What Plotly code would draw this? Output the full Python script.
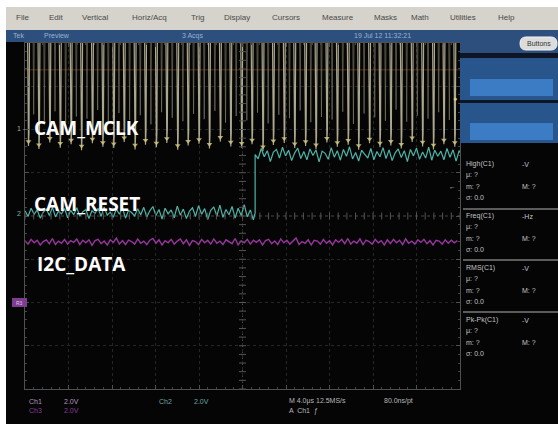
import numpy as np
import plotly.graph_objects as go

W, H = 558, 424
L, R, T, B = 25, 460, 43, 389  # graticule area in pixels


def px(x):
    return (x - L) / (R - L)


def py(y):
    return (B - y) / (B - T)


# ---------------- data (time in divisions 0..10, amplitude in divisions 0..8) ----------------
MCLK_DIP_T = [0.08, 0.32, 0.57, 0.81, 1.06, 1.30, 1.55, 1.79, 2.04, 2.28, 2.53, 2.77, 3.02, 3.26,
              3.51, 3.75, 4.00, 4.24, 4.49, 4.73, 4.98, 5.22, 5.47, 5.71, 5.96, 6.20, 6.45, 6.69,
              6.94, 7.18, 7.43, 7.67, 7.92, 8.16, 8.41, 8.65, 8.90, 9.14, 9.39, 9.63, 9.88]
MCLK_DIP_LOW = [5.62, 5.55, 5.70, 5.58, 5.66, 5.52, 5.68, 5.60, 5.57, 5.71,
                5.54, 5.65, 5.59, 5.69, 5.53, 5.63, 5.67, 5.56, 5.72, 5.61,
                5.58, 5.66, 5.50, 5.64, 5.69, 5.57, 5.62, 5.55, 5.70, 5.60,
                5.65, 5.53, 5.68, 5.59, 5.63, 5.56, 5.71, 5.61, 5.54, 5.66, 5.60]
MCLK_MID_LOW = [6.35, 6.20, 6.42, 6.15, 6.30, 6.25, 6.45, 6.18, 6.38, 6.22,
                6.33, 6.12, 6.40, 6.27, 6.19, 6.36, 6.24, 6.43, 6.16, 6.31,
                6.21, 6.39, 6.14, 6.34, 6.26, 6.44, 6.17, 6.29, 6.23, 6.41,
                6.13, 6.37, 6.28, 6.20, 6.46, 6.18, 6.32, 6.25, 6.40, 6.22]
MCLK_OFFSCREEN = 9.0

SAMPLE_STEP = 0.07
RESET_EDGE_T = 5.29
RESET_LOW = 4.07
RESET_HIGH = 5.42
RESET_LOW_NOISE = [0.05, -0.08, 0.11, -0.03, 0.07, -0.12, 0.02, 0.09, -0.06, 0.13, -0.09, 0.04, -0.02, 0.10, -0.11, 0.06, -0.04, 0.12, -0.07, 0.03,
                   0.08, -0.13, 0.05, -0.01, 0.11, -0.08, 0.14, -0.05, 0.02, -0.10, 0.09, -0.03, 0.12, -0.12, 0.06, 0.01, -0.07, 0.10, -0.04, 0.13,
                   -0.09, 0.05, 0.15, -0.06, 0.08, -0.14, 0.11, -0.02, 0.07, -0.11, 0.16, -0.05, 0.09, -0.13, 0.04, 0.12, -0.08, 0.17, -0.03, 0.10,
                   -0.15, 0.06, 0.14, -0.07, 0.18, -0.10, 0.08, -0.04, 0.15, -0.12, 0.11, -0.06, 0.19, -0.09, 0.07, -0.16]
RESET_HIGH_NOISE = [-0.10, 0.14, -0.05, 0.09, -0.16, 0.06, 0.12, -0.08, 0.17, -0.03, 0.10, -0.14, 0.04, 0.15, -0.09, 0.07, -0.12, 0.13, -0.02, 0.11,
                    -0.17, 0.08, 0.03, -0.11, 0.16, -0.06, 0.09, -0.13, 0.12, -0.04, 0.18, -0.10, 0.05, -0.15, 0.10, 0.02, -0.08, 0.14, -0.12, 0.07,
                    -0.05, 0.16, -0.09, 0.11, -0.14, 0.04, 0.13, -0.07, 0.09, -0.16, 0.12, -0.03, 0.15, -0.11, 0.06, -0.08, 0.17, -0.13, 0.10, -0.04,
                    0.08, -0.12, 0.14, -0.06, 0.11, -0.15, 0.09, -0.02]
I2C_LEVEL = 3.40
I2C_NOISE = [0.03, -0.05, 0.06, -0.02, 0.04, -0.07, 0.01, 0.05, -0.04, 0.08, -0.06, 0.02, -0.03, 0.06, -0.05, 0.03, -0.01, 0.07, -0.06, 0.04,
             -0.02, 0.05, -0.08, 0.03, 0.06, -0.04, 0.02, -0.07, 0.05, -0.01, 0.09, -0.05, 0.03, -0.06, 0.04, 0.01, -0.05, 0.07, -0.03, 0.02,
             -0.06, 0.04, 0.08, -0.03, 0.05, -0.07, 0.03, -0.02, 0.06, -0.05, 0.02, 0.07, -0.04, 0.05, -0.08, 0.03, 0.01, -0.06, 0.06, -0.02,
             0.04, -0.05, 0.07, -0.03, 0.02, -0.06, 0.05, 0.01, -0.04, 0.08, -0.07, 0.03, -0.02, 0.06, -0.05, 0.04, -0.01, 0.05, -0.07, 0.03,
             0.06, -0.04, 0.02, -0.06, 0.07, -0.02, 0.04, -0.05, 0.03, 0.09, -0.06, 0.01, -0.03, 0.05, -0.07, 0.04, 0.02, -0.05, 0.06, -0.03,
             0.03, -0.07, 0.05, -0.01, 0.06, -0.04, 0.08, -0.05, 0.02, -0.03, 0.07, -0.06, 0.04, 0.01, -0.05, 0.06, -0.02, 0.03, -0.07, 0.05,
             -0.04, 0.06, -0.02, 0.04, -0.06, 0.07, -0.03, 0.02, -0.05, 0.05, -0.01, 0.06, -0.04, 0.03, -0.07, 0.04, 0.02, -0.05, 0.05, -0.03,
             0.04, -0.02, 0.03]
TRIG_LEVEL = 7.38

SIGNAL_LABELS = ["CAM_MCLK", "CAM_RESET", "I2C_DATA"]
MENU_ITEMS = ["File", "Edit", "Vertical", "Horiz/Acq", "Trig", "Display", "Cursors",
              "Measure", "Masks", "Math", "Utilities", "Help"]
MEAS_NAMES = ["High(C1)", "Freq(C1)", "RMS(C1)", "Pk-Pk(C1)"]
MEAS_UNITS = ["-V", "-Hz", "-V", "-V"]

# ---------------- traces ----------------
clk_x, clk_y = [], []
for t, lo in zip(MCLK_DIP_T, MCLK_DIP_LOW):
    clk_x += [t - 0.028, t - 0.008, t, t + 0.012, t + 0.028]
    clk_y += [MCLK_OFFSCREEN, lo + 0.2, lo, lo + 0.3, MCLK_OFFSCREEN]
mid_x, mid_y = [], []
for i, lo in enumerate(MCLK_MID_LOW):
    tm = (MCLK_DIP_T[i] + MCLK_DIP_T[i + 1]) / 2
    mid_x += [tm - 0.02, tm, tm + 0.02, None]
    mid_y += [MCLK_OFFSCREEN, lo, MCLK_OFFSCREEN, None]

t_low = [i * SAMPLE_STEP for i in range(len(RESET_LOW_NOISE))]
t_high = [RESET_EDGE_T + (i + 1) * SAMPLE_STEP for i in range(len(RESET_HIGH_NOISE))]
rst_x = t_low + [RESET_EDGE_T, RESET_EDGE_T] + t_high
rst_y = ([RESET_LOW + n for n in RESET_LOW_NOISE] + [RESET_LOW, RESET_HIGH]
         + [RESET_HIGH + n for n in RESET_HIGH_NOISE])
i2c_x = [i * SAMPLE_STEP for i in range(len(I2C_NOISE))]
i2c_y = [I2C_LEVEL + n for n in I2C_NOISE]

fig = go.Figure()
fig.add_trace(go.Scatter(x=[0, 10], y=[TRIG_LEVEL, TRIG_LEVEL], mode="lines",
                         line=dict(color="#5a2a1c", width=1), hoverinfo="skip"))
fig.add_trace(go.Scatter(x=mid_x, y=mid_y, mode="lines",
                         line=dict(color="rgba(150,148,120,0.5)", width=1), hoverinfo="skip"))
fig.add_trace(go.Scatter(x=clk_x, y=clk_y, mode="lines",
                         line=dict(color="rgba(190,186,156,0.9)", width=1.2), hoverinfo="skip"))
fig.add_trace(go.Scatter(x=MCLK_DIP_T, y=[v + 0.1 for v in MCLK_DIP_LOW], mode="markers",
                         marker=dict(symbol="triangle-down", size=5, color="#cfc47c", opacity=0.85),
                         hoverinfo="skip"))
fig.add_trace(go.Scatter(x=rst_x, y=rst_y, mode="lines",
                         line=dict(color="#4db4a8", width=1.2), hoverinfo="skip"))
fig.add_trace(go.Scatter(x=i2c_x, y=i2c_y, mode="lines",
                         line=dict(color="#9a35a0", width=1.4), hoverinfo="skip"))

# graticule centre-line minor ticks
fig.add_trace(go.Scatter(x=np.arange(0, 10.01, 0.2), y=[4] * 51, mode="markers",
                         marker=dict(symbol="line-ns", size=5, line=dict(color="#555555", width=1)),
                         hoverinfo="skip"))
fig.add_trace(go.Scatter(x=[5] * 41, y=np.arange(0, 8.01, 0.2), mode="markers",
                         marker=dict(symbol="line-ew", size=5, line=dict(color="#555555", width=1)),
                         hoverinfo="skip"))

shapes = []


def rect(x0, y0, x1, y1, color, layer="above"):
    shapes.append(dict(type="rect", xref="paper", yref="paper", x0=px(x0), x1=px(x1),
                       y0=py(y1), y1=py(y0), fillcolor=color, line=dict(width=0), layer=layer))


def hline(x0, x1, y, color, width=1, dash="solid"):
    shapes.append(dict(type="line", xref="paper", yref="paper", x0=px(x0), x1=px(x1),
                       y0=py(y), y1=py(y), line=dict(color=color, width=width, dash=dash)))


# screen background / chrome
rect(6, 42, 558, 424, "#050505", layer="below")
rect(6, 7, 558, 30, "#d5d3cb")
rect(6, 30, 558, 42, "#2c4f7e")
rect(460, 42, 558, 53, "#2c4f7e")
rect(460, 53, 558, 58, "#0e1626")
rect(460, 58, 558, 100, "#28558c")
rect(470, 79, 553, 96, "#3b7cc4")
rect(460, 100, 558, 103, "#0e1626")
rect(460, 103, 558, 143, "#28558c")
rect(470, 123, 553, 140, "#3b7cc4")
# Buttons pill
x0, x1, y0, y1 = px(520), px(557), py(37), py(50)
rx = 6 / (R - L)
shapes.append(dict(type="path", xref="paper", yref="paper",
                   path=f"M {x0+rx},{y0} L {x1-rx},{y0} Q {x1},{y0} {x1},{(y0+y1)/2} Q {x1},{y1} {x1-rx},{y1} "
                        f"L {x0+rx},{y1} Q {x0},{y1} {x0},{(y0+y1)/2} Q {x0},{y0} {x0+rx},{y0} Z",
                   fillcolor="#dcdcdc", line=dict(color="#f4f4f4", width=1)))
# centre lines
shapes.append(dict(type="line", xref="x", yref="y", x0=5, x1=5, y0=0, y1=8,
                   line=dict(color="#4a4a4a", width=1, dash="dot"), layer="below"))
shapes.append(dict(type="line", xref="x", yref="y", x0=0, x1=10, y0=4, y1=4,
                   line=dict(color="#4a4a4a", width=1, dash="dot"), layer="below"))
# measurement separators
for yy in (209, 260, 312):
    hline(463, 558, yy, "#7a7a7a", 1.5)
# channel 3 reference marker
rect(12, 298, 27, 307, "#7e3c90")

ann = []


def text(x, y, s, size=8, color="#c8c8c8", anchor="left", bold=False, family="Liberation Sans"):
    ann.append(dict(x=px(x), y=py(y), xref="paper", yref="paper", text=f"<b>{s}</b>" if bold else s,
                    showarrow=False, xanchor=anchor, yanchor="middle",
                    font=dict(size=size, color=color, family=family)))


menu_x = [14, 47, 80, 130, 189, 222, 270, 320, 372, 409, 448, 496]
for s, xx in zip(MENU_ITEMS, menu_x):
    text(xx, 18, s, 8, "#4a4a4a")
text(11, 36, "Tek", 7, "#9db2cc")
text(42, 36, "Preview", 7, "#9db2cc")
text(180, 36, "3 Acqs", 7, "#9db2cc")
text(352, 36, "19 Jul 12 11:32:21", 7, "#9db2cc")
text(538.5, 43.5, "Buttons", 7, "#333333", anchor="center")

label_pos = [(32, 128), (32, 204), (35, 264)]
for s, (xx, yy) in zip(SIGNAL_LABELS, label_pos):
    text(xx, yy, s, 19, "#ffffff", bold=True, family="Open Sans")
text(15, 128, "1 ‑", 7, "#b0ac90")
text(15, 213, "2", 7, "#7ab0a8")
text(19.5, 302.5, "R3", 5, "#e0c0e8", anchor="center")
text(447, 186, "←", 7, "#d0d0d0")
ann.append(dict(x=px(455), y=py(98), xref="paper", yref="paper", text="●", showarrow=False,
                font=dict(size=7, color="#d8d088"), xanchor="center", yanchor="middle"))

for k, (nm, un) in enumerate(zip(MEAS_NAMES, MEAS_UNITS)):
    y0m = 164 + k * 52
    text(464, y0m, nm, 7, "#c4c4c4")
    text(520, y0m, un, 7, "#c4c4c4")
    text(464, y0m + 11, "μ: ?", 7, "#c4c4c4")
    text(464, y0m + 22, "m: ?", 7, "#c4c4c4")
    text(520, y0m + 22, "M: ?", 7, "#c4c4c4")
    text(464, y0m + 33, "σ: 0.0", 7, "#c4c4c4")

text(27, 401, "Ch1", 7, "#b896c0")
text(62, 401, "2.0V", 7, "#b896c0")
text(27, 411, "Ch3", 7, "#8a3e9a")
text(62, 411, "2.0V", 7, "#8a3e9a")
text(157, 401, "Ch2", 7, "#6aa8a0")
text(192, 401, "2.0V", 7, "#6aa8a0")
text(287, 401, "M 4.0μs 12.5MS/s", 7, "#b8b8b8")
text(382, 401, "80.0ns/pt", 7, "#b8b8b8")
text(287, 411, "A  Ch1  ƒ", 7, "#b8b8b8")

axis_common = dict(showticklabels=False, showgrid=True, gridcolor="#262626", griddash="dot",
                   zeroline=False, showline=True, linecolor="#505050", linewidth=1, mirror="ticks",
                   ticks="inside", ticklen=4, tickcolor="#505050",
                   minor=dict(ticks="inside", ticklen=2, tickcolor="#444444", showgrid=False),
                   fixedrange=True)
fig.update_xaxes(range=[0, 10], dtick=1, **axis_common)
fig.update_xaxes(minor_dtick=0.2)
fig.update_yaxes(range=[0, 8], dtick=1, **axis_common)
fig.update_yaxes(minor_dtick=0.2)

fig.update_layout(width=W, height=H, autosize=False,
                  margin=dict(l=L, r=W - R, t=T, b=H - B, pad=0),
                  paper_bgcolor="#ffffff", plot_bgcolor="#050505",
                  showlegend=False, shapes=shapes, annotations=ann)
fig.write_html("out.html", config={"displayModeBar": False},
               post_script="document.body.style.margin='0';document.body.style.overflow='hidden';")
